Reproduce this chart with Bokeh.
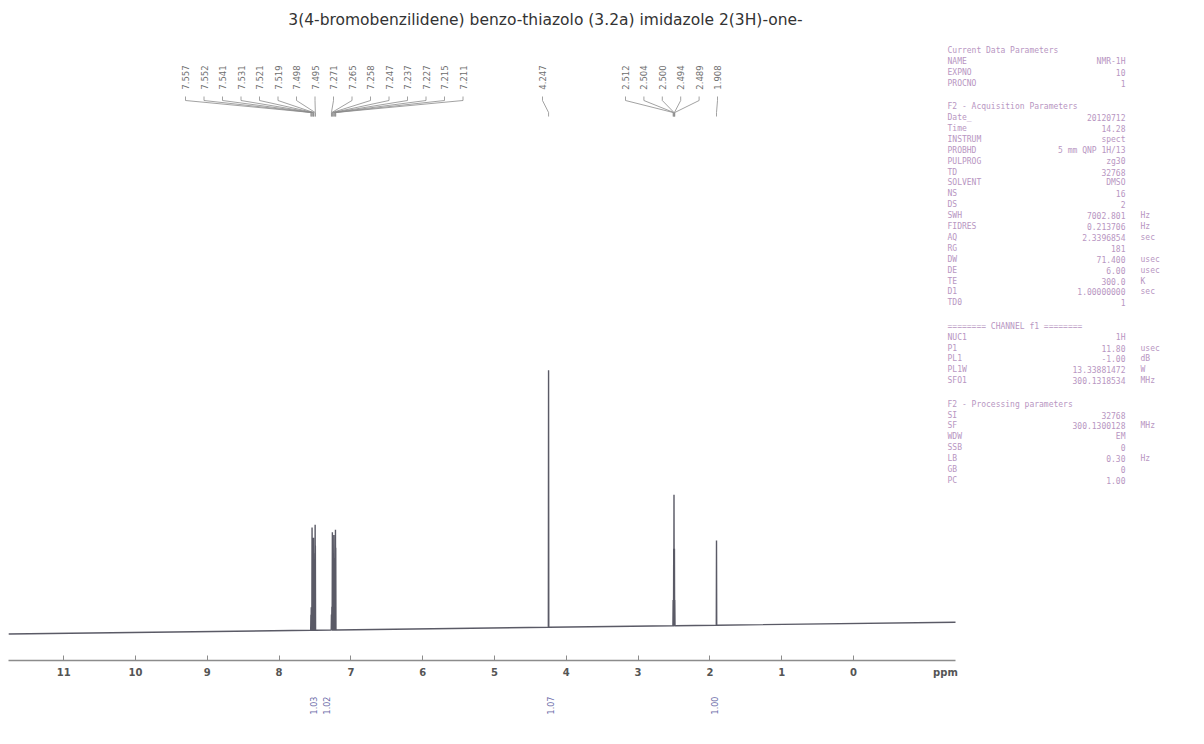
import numpy as np
from bokeh.plotting import figure
from bokeh.models import Range1d, LinearAxis, FixedTicker
from bokeh.layouts import column
from bokeh.core.properties import value
from bokeh.embed import file_html
from bokeh.resources import INLINE

# ---------------- data ----------------
title_text = "3(4-bromobenzilidene) benzo-thiazolo (3.2a) imidazole 2(3H)-one-"

peak_ppm = [7.557, 7.552, 7.541, 7.531, 7.521, 7.519, 7.498, 7.495,
            7.271, 7.265, 7.258, 7.247, 7.237, 7.227, 7.215, 7.211,
            4.247,
            2.512, 2.504, 2.500, 2.494, 2.489,
            1.908]
peak_height = [6, 9, 40, 30, 36, 30, 41, 33,
               6, 9, 38, 30, 37, 28, 39, 32,
               100,
               10, 30, 51, 30, 10,
               33]

group1_labels = ["7.557", "7.552", "7.541", "7.531", "7.521", "7.519", "7.498", "7.495",
                 "7.271", "7.265", "7.258", "7.247", "7.237", "7.227", "7.215", "7.211"]
group2_labels = ["4.247"]
group3_labels = ["2.512", "2.504", "2.500", "2.494", "2.489", "1.908"]

integral_ppm = [7.52, 7.34, 4.22, 1.94]
integral_text = ["1.03", "1.02", "1.07", "1.00"]

tick_values = [11, 10, 9, 8, 7, 6, 5, 4, 3, 2, 1, 0]
unit_label = "ppm"

baseline_ppm = [11.77, -4.89]
baseline_level = [-0.6, 5.2]

params = [
    ("H", "Current Data Parameters", ""),
    ("", "NAME", "NMR-1H", ""),
    ("", "EXPNO", "10", ""),
    ("", "PROCNO", "1", ""),
    ("G", "", ""),
    ("H", "F2 - Acquisition Parameters", ""),
    ("", "Date_", "20120712", ""),
    ("", "Time", "14.28", ""),
    ("", "INSTRUM", "spect", ""),
    ("", "PROBHD", "5 mm QNP 1H/13", ""),
    ("", "PULPROG", "zg30", ""),
    ("", "TD", "32768", ""),
    ("", "SOLVENT", "DMSO", ""),
    ("", "NS", "16", ""),
    ("", "DS", "2", ""),
    ("", "SWH", "7002.801", "Hz"),
    ("", "FIDRES", "0.213706", "Hz"),
    ("", "AQ", "2.3396854", "sec"),
    ("", "RG", "181", ""),
    ("", "DW", "71.400", "usec"),
    ("", "DE", "6.00", "usec"),
    ("", "TE", "300.0", "K"),
    ("", "D1", "1.00000000", "sec"),
    ("", "TD0", "1", ""),
    ("G", "", ""),
    ("H", "======== CHANNEL f1 ========", ""),
    ("", "NUC1", "1H", ""),
    ("", "P1", "11.80", "usec"),
    ("", "PL1", "-1.00", "dB"),
    ("", "PL1W", "13.33881472", "W"),
    ("", "SFO1", "300.1318534", "MHz"),
    ("G", "", ""),
    ("H", "F2 - Processing parameters", ""),
    ("", "SI", "32768", ""),
    ("", "SF", "300.1300128", "MHz"),
    ("", "WDW", "EM", ""),
    ("", "SSB", "0", ""),
    ("", "LB", "0.30", "Hz"),
    ("", "GB", "0", ""),
    ("", "PC", "1.00", ""),
]

# ------------- layout helpers (screen px -> data) -------------
PX0, PXPP = 853.0, 71.8      # x pixel of 0 ppm, pixels per ppm
BASE_PX, PX_PER_UNIT = 632.0, 2.57
def X(px):
    return (PX0 - px) / PXPP
def Y(px):
    return (BASE_PX - px) / PX_PER_UNIT

W, H_MAIN, H_INT = 1204, 686, 58
x_range = Range1d(X(8), X(1204))
y_range = Range1d(Y(660), Y(0))

p = figure(width=W, height=H_MAIN, x_range=x_range, y_range=y_range,
           x_axis_type=None, y_axis_type=None, output_backend="svg",
           toolbar_location=None, min_border_left=8, min_border_right=0,
           min_border_top=0, min_border_bottom=26)
p.outline_line_color = None
p.grid.visible = False
p.background_fill_color = "white"
p.border_fill_color = "white"

# axis: integer tick marks drawn as "minor" ticks, labels (incl. unit) as majors
ppm_pos = round(X(945), 3)
ax = LinearAxis(ticker=FixedTicker(ticks=tick_values + [ppm_pos], minor_ticks=tick_values))
ax.major_label_overrides = {ppm_pos: unit_label}
ax.bounds = (X(955), X(8))
ax.axis_line_color = "#8c8c8c"
ax.axis_line_width = 1.3
ax.major_tick_in = 0
ax.major_tick_out = 0
ax.minor_tick_in = 5
ax.minor_tick_out = 0
ax.minor_tick_line_color = "#8c8c8c"
ax.minor_tick_line_width = 1
ax.major_label_standoff = 6
ax.major_label_text_font_size = "10px"
ax.major_label_text_font_style = "bold"
ax.major_label_text_color = "#555555"
ax.major_label_text_font = "DejaVu Sans"
p.add_layout(ax, "below")

# spectrum line
order = np.argsort(peak_ppm)[::-1]
w = 0.003
neg_base = [-v for v in baseline_ppm]
xs = [baseline_ppm[0]]
ys = [baseline_level[0]]
for i in order:
    c = peak_ppm[i]
    b = float(np.interp(-c, neg_base, baseline_level))
    xs += [c + w, c, c - w]
    ys += [b, b + peak_height[i], b]
x_end = X(955)
xs.append(x_end)
ys.append(float(np.interp(-x_end, neg_base, baseline_level)))
p.line(xs, ys, line_color="#5a5a66", line_width=1.4)

# title
p.text(x=[X(545)], y=[Y(19)], text=[title_text], text_font=value("DejaVu Sans"),
       text_font_size="15.5px", text_color="#333333", text_align="center",
       text_baseline="middle")

# peak labels and fan lines
def label_group(labels, px_start, px_step, targets, color="#6e6e6e"):
    lx = [X(px_start + k * px_step) for k in range(len(labels))]
    p.text(x=lx, y=[Y(77)] * len(labels), text=labels, angle=np.pi / 2,
           text_font=value("DejaVu Sans"), text_font_size="8.5px", text_color=color,
           text_align="center", text_baseline="middle")
    mx, my = [], []
    for xl, t in zip(lx, targets):
        mx.append([xl, xl, t, t])
        my.append([Y(96), Y(100), Y(112), Y(116)])
    p.multi_line(mx, my, line_color="#8a8a8a", line_width=0.8)

label_group(group1_labels, 185, 18.5, peak_ppm[0:16])
label_group(group2_labels, 542, 0, [peak_ppm[16]])
label_group(group3_labels, 625, 18.4, peak_ppm[17:23])

# parameter block
PX_LBL, PX_VAL, PX_UNIT = 947, 1125, 1140
ypx = 50.0
lbl_x, lbl_y, lbl_t = [], [], []
val_x, val_y, val_t = [], [], []
unit_x, unit_y, unit_t = [], [], []
for row in params:
    if row[0] == "G":
        ypx += 12.5
        continue
    if row[0] == "H":
        lbl_x.append(X(PX_LBL)); lbl_y.append(Y(ypx)); lbl_t.append(row[1])
    else:
        _, name, val, unit = row
        lbl_x.append(X(PX_LBL)); lbl_y.append(Y(ypx)); lbl_t.append(name)
        val_x.append(X(PX_VAL)); val_y.append(Y(ypx)); val_t.append(val)
        if unit:
            unit_x.append(X(PX_UNIT)); unit_y.append(Y(ypx)); unit_t.append(unit)
    ypx += 10.9
pcol = "#b896c2"
for xx, yy, tt, al in ((lbl_x, lbl_y, lbl_t, "left"), (val_x, val_y, val_t, "right"),
                       (unit_x, unit_y, unit_t, "left")):
    p.text(x=xx, y=yy, text=tt, text_font=value("DejaVu Sans Mono"),
           text_font_size="8px", text_color=pcol, text_align=al, text_baseline="middle")

# integral figure
pi_ = figure(width=W, height=H_INT, x_range=x_range, y_range=Range1d(H_INT, 0),
             x_axis_type=None, y_axis_type=None, output_backend="svg",
             toolbar_location=None, min_border_left=8, min_border_right=0,
             min_border_top=0, min_border_bottom=0)
pi_.outline_line_color = None
pi_.grid.visible = False
pi_.text(x=integral_ppm, y=[19] * len(integral_ppm), text=integral_text, angle=np.pi / 2,
         text_font=value("DejaVu Sans"), text_font_size="8px", text_color="#6a6aa8",
         text_align="center", text_baseline="middle")

layout = column(p, pi_, spacing=0)
open("out.html", "w").write(file_html(layout, INLINE))
